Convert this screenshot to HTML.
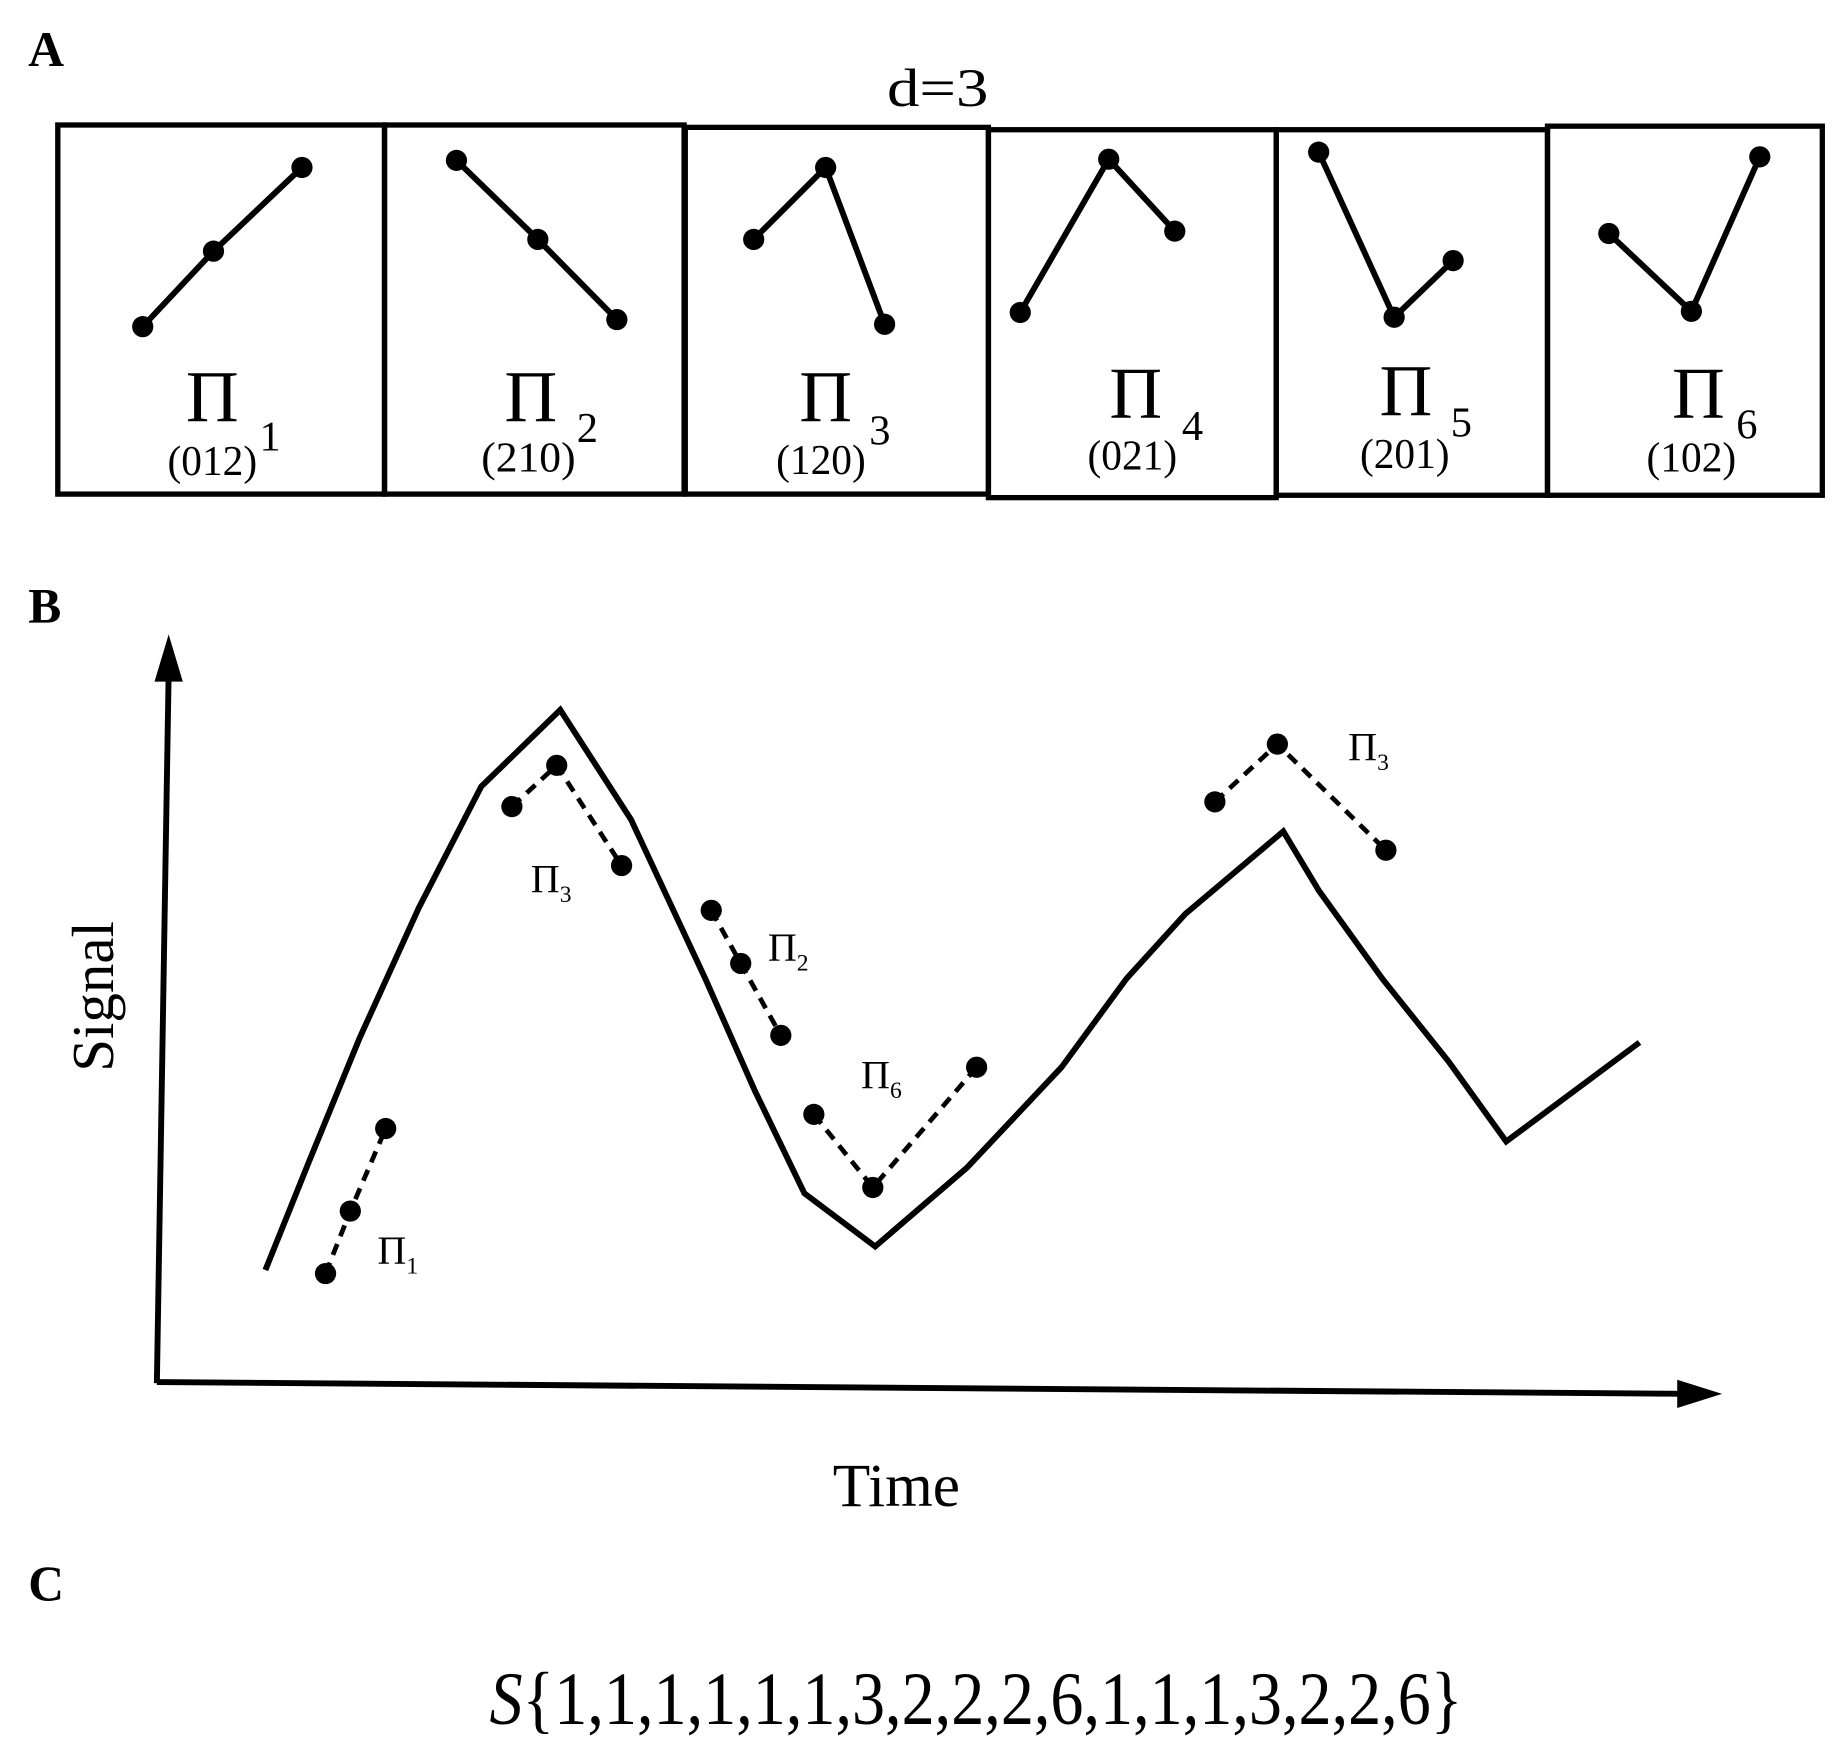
<!DOCTYPE html>
<html><head><meta charset="utf-8"><style>
html,body{margin:0;padding:0;background:#fff}
svg{display:block}
text{font-family:"Liberation Serif",serif;fill:#000}
</style></head><body>
<svg width="1840" height="1737" viewBox="0 0 1560 1473" preserveAspectRatio="none" xmlns="http://www.w3.org/2000/svg">
<rect width="1560" height="1473" fill="#fff"/>
<text x="24" y="56" font-size="42" font-weight="bold">A</text>
<text x="795" y="90" font-size="46" text-anchor="middle" textLength="86" lengthAdjust="spacingAndGlyphs">d=3</text>
<g fill="none" stroke="#000" stroke-width="4.5">
<rect x="49" y="106" width="277" height="313"/>
<rect x="326" y="106" width="254" height="313"/>
<rect x="581" y="108" width="257" height="311"/>
<rect x="838" y="110" width="244" height="312"/>
<rect x="1082" y="110" width="230" height="310"/>
<rect x="1312" y="107" width="233" height="313"/>
</g>
<g stroke="#000" stroke-width="5" fill="none">
<polyline points="121,277 181,213 256,142"/>
<polyline points="387,136 456,203 523,271"/>
<polyline points="639,203 700,142 750,275"/>
<polyline points="865,265 940,135 996,196"/>
<polyline points="1118,129 1182,269 1232,221"/>
<polyline points="1364,198 1434,264 1492,133"/>
</g>
<g fill="#000">
<circle cx="121" cy="277" r="9"/><circle cx="181" cy="213" r="9"/><circle cx="256" cy="142" r="9"/>
<circle cx="387" cy="136" r="9"/><circle cx="456" cy="203" r="9"/><circle cx="523" cy="271" r="9"/>
<circle cx="639" cy="203" r="9"/><circle cx="700" cy="142" r="9"/><circle cx="750" cy="275" r="9"/>
<circle cx="865" cy="265" r="9"/><circle cx="940" cy="135" r="9"/><circle cx="996" cy="196" r="9"/>
<circle cx="1118" cy="129" r="9"/><circle cx="1182" cy="269" r="9"/><circle cx="1232" cy="221" r="9"/>
<circle cx="1364" cy="198" r="9"/><circle cx="1434" cy="264" r="9"/><circle cx="1492" cy="133" r="9"/>
</g>
<g font-size="62">
<text x="180" y="357" text-anchor="middle">Π</text>
<text x="450" y="357" text-anchor="middle">Π</text>
<text x="700" y="357" text-anchor="middle">Π</text>
<text x="963" y="354" text-anchor="middle">Π</text>
<text x="1192" y="352" text-anchor="middle">Π</text>
<text x="1440" y="354" text-anchor="middle">Π</text>
</g>
<g font-size="36">
<text x="142" y="403" textLength="76" lengthAdjust="spacingAndGlyphs">(012)</text><text x="220" y="382">1</text>
<text x="408" y="400" textLength="80" lengthAdjust="spacingAndGlyphs">(210)</text><text x="489" y="375">2</text>
<text x="658" y="402" textLength="76" lengthAdjust="spacingAndGlyphs">(120)</text><text x="737" y="377">3</text>
<text x="922" y="398" textLength="76" lengthAdjust="spacingAndGlyphs">(021)</text><text x="1002" y="373">4</text>
<text x="1153" y="397" textLength="76" lengthAdjust="spacingAndGlyphs">(201)</text><text x="1230" y="370">5</text>
<text x="1396" y="400" textLength="76" lengthAdjust="spacingAndGlyphs">(102)</text><text x="1472" y="372">6</text>
</g>
<text x="24" y="528" font-size="42" font-weight="bold">B</text>
<g stroke="#000" stroke-width="5" fill="none">
<line x1="133" y1="1173" x2="143" y2="570"/>
<line x1="133" y1="1172" x2="1430" y2="1182"/>
<polyline points="225,1077 262,985 305,880 355,770 408,667 475,602 535,695 598,830 640,925 682,1012 742,1057 820,990 900,905 955,830 1005,775 1088,705 1118,755 1172,830 1228,900 1277,968 1390,884"/>
</g>
<polygon points="143,538 131,578 155,578" fill="#000"/>
<polygon points="1460,1182 1422,1170 1422,1194" fill="#000"/>
<g stroke="#000" stroke-width="4" fill="none" stroke-dasharray="10,7">
<polyline points="276,1080 297,1027 327,957"/>
<polyline points="434,684 472,649 527,734"/>
<polyline points="603,772 628,817 662,878"/>
<polyline points="690,945 740,1007 828,905"/>
<polyline points="1030,680 1083,631 1175,721"/>
</g>
<g fill="#000">
<circle cx="276" cy="1080" r="9"/><circle cx="297" cy="1027" r="9"/><circle cx="327" cy="957" r="9"/>
<circle cx="434" cy="684" r="9"/><circle cx="472" cy="649" r="9"/><circle cx="527" cy="734" r="9"/>
<circle cx="603" cy="772" r="9"/><circle cx="628" cy="817" r="9"/><circle cx="662" cy="878" r="9"/>
<circle cx="690" cy="945" r="9"/><circle cx="740" cy="1007" r="9"/><circle cx="828" cy="905" r="9"/>
<circle cx="1030" cy="680" r="9"/><circle cx="1083" cy="631" r="9"/><circle cx="1175" cy="721" r="9"/>
</g>
<g font-size="34">
<text x="320" y="1072">Π<tspan font-size="20" dy="8">1</tspan></text>
<text x="450" y="757">Π<tspan font-size="20" dy="8">3</tspan></text>
<text x="651" y="815">Π<tspan font-size="20" dy="8">2</tspan></text>
<text x="730" y="923">Π<tspan font-size="20" dy="8">6</tspan></text>
<text x="1143" y="645">Π<tspan font-size="20" dy="8">3</tspan></text>
</g>
<text transform="translate(96,845) rotate(-90)" font-size="50" text-anchor="middle">Signal</text>
<text x="760" y="1277" font-size="52" text-anchor="middle">Time</text>
<text x="24" y="1357" font-size="42" font-weight="bold">C</text>
<text x="415" y="1462" font-size="64" textLength="825" lengthAdjust="spacingAndGlyphs"><tspan font-style="italic">S</tspan>{1,1,1,1,1,1,3,2,2,2,6,1,1,1,3,2,2,6}</text>
</svg>
</body></html>
